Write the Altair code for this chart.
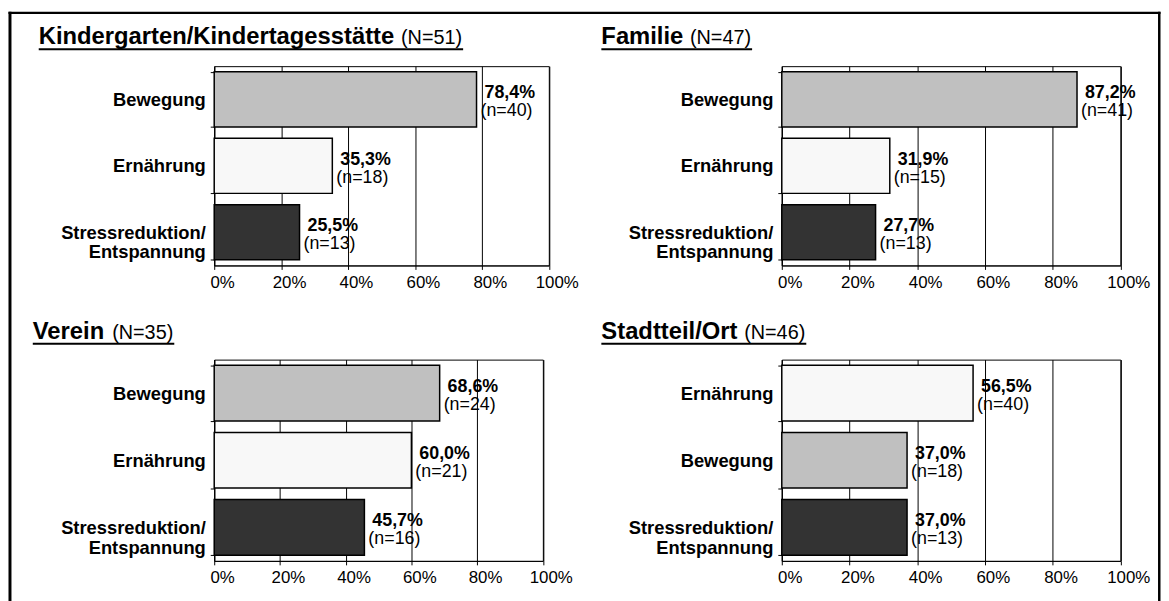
import altair as alt
import pandas as pd

FONT = "Liberation Sans"

panel_titles = ["Kindergarten/Kindertagesstätte", "Familie", "Verein", "Stadtteil/Ort"]
panel_N = ["(N=51)", "(N=47)", "(N=35)", "(N=46)"]

cats_all = ["Bewegung", "Ernährung", "Stressreduktion/|Entspannung"]
cat_colors = ["#c0c0c0", "#f8f8f8", "#333333"]

panel_cats = [
    ["Bewegung", "Ernährung", "Stressreduktion/|Entspannung"],
    ["Bewegung", "Ernährung", "Stressreduktion/|Entspannung"],
    ["Bewegung", "Ernährung", "Stressreduktion/|Entspannung"],
    ["Ernährung", "Bewegung", "Stressreduktion/|Entspannung"],
]
panel_pct = [
    [78.4, 35.3, 25.5],
    [87.2, 31.9, 27.7],
    [68.6, 60.0, 45.7],
    [56.5, 37.0, 37.0],
]
panel_n = [
    [40, 18, 13],
    [41, 15, 13],
    [24, 21, 16],
    [40, 18, 13],
]
x_ticks = [0, 20, 40, 60, 80, 100]

# Arial / Liberation Sans advance widths (per 1000 em) for the title glyphs
BOLD_W = {"K": 722, "i": 278, "n": 611, "d": 611, "e": 556, "r": 389, "g": 611, "a": 556,
          "t": 333, "/": 278, "s": 556, "ä": 556, "F": 611, "m": 889, "l": 278, "V": 667,
          "S": 667, "O": 778, " ": 278}
REG_W = {"(": 333, ")": 333, "N": 722, "=": 584}

TITLE_BOLD = 24
TITLE_REG = 20


def text_w(s, table, size):
    return sum(table.get(c, 556) for c in s) * size / 1000.0


def frame_rect(x1, x2, y1, y2):
    return alt.Chart(pd.DataFrame({"f": [0]})).mark_rect(color="black", strokeWidth=0).encode(
        x=alt.value(x1), x2=alt.value(x2), y=alt.value(y1), y2=alt.value(y2))


def panel(i, w, h, title_x, title_y, line_y, frame_parts=()):
    df = pd.DataFrame({"cat": panel_cats[i], "pct": panel_pct[i], "n": panel_n[i]})
    df["pct_label"] = [f"{v:.1f}".replace(".", ",") + "%" for v in df["pct"]]
    df["n_label"] = [f"(n={k})" for k in df["n"]]

    yscale = alt.Scale(paddingInner=0.17, paddingOuter=0.085)
    y = alt.Y("cat:N", sort=panel_cats[i], scale=yscale,
              axis=alt.Axis(title=None, labelExpr="split(datum.label, '|')",
                            labelFont=FONT, labelFontSize=18.5, labelFontWeight="bold",
                            labelColor="black", labelLineHeight=20, tickBand="extent",
                            tickSize=4, tickColor="black", domainColor="black",
                            labelPadding=5, labelLimit=400, grid=False))
    x = alt.X("pct:Q", scale=alt.Scale(domain=[0, 100], nice=False),
              axis=alt.Axis(values=x_ticks, labelExpr="datum.value + '%'", title=None,
                            grid=True, gridColor="black", gridWidth=1, gridOpacity=1,
                            tickSize=4, tickColor="black", domainColor="black",
                            labelFont=FONT, labelFontSize=17, labelColor="black",
                            labelPadding=5, labelOffset=8, labelFlush=False))
    base = alt.Chart(df)
    bars = base.mark_bar(stroke="black", strokeWidth=1.5).encode(
        x=x, y=y,
        color=alt.Color("cat:N", scale=alt.Scale(domain=cats_all, range=cat_colors), legend=None),
    )
    t1 = base.mark_text(align="left", baseline="alphabetic", dx=8, dy=-1, font=FONT,
                        fontSize=18, fontWeight="bold", color="black").encode(
        x="pct:Q", y=alt.Y("cat:N", sort=panel_cats[i]), text="pct_label:N")
    t2 = base.mark_text(align="left", baseline="alphabetic", dx=4, dy=17, font=FONT,
                        fontSize=18, color="black").encode(
        x="pct:Q", y=alt.Y("cat:N", sort=panel_cats[i]), text="n_label:N")

    tdf = pd.DataFrame({"t": [panel_titles[i]], "nn": [panel_N[i]]})
    bw = text_w(panel_titles[i], BOLD_W, TITLE_BOLD)
    gap = text_w(" ", BOLD_W, TITLE_BOLD)
    nw = text_w(panel_N[i], REG_W, TITLE_REG)
    tb = alt.Chart(tdf).mark_text(align="left", baseline="alphabetic", font=FONT,
                                  fontSize=TITLE_BOLD, fontWeight="bold", color="black").encode(
        x=alt.value(title_x), y=alt.value(title_y), text="t:N")
    tn = alt.Chart(tdf).mark_text(align="left", baseline="alphabetic", font=FONT,
                                  fontSize=TITLE_REG, color="black").encode(
        x=alt.value(title_x + bw + gap), y=alt.value(title_y), text="nn:N")
    ul = alt.Chart(tdf).mark_rule(color="black", strokeWidth=2).encode(
        x=alt.value(title_x), x2=alt.value(title_x + bw + gap + nw + 1), y=alt.value(line_y))

    layers = [bars, t1, t2, tb, tn, ul] + [frame_rect(*p) for p in frame_parts]
    return alt.layer(*layers).properties(width=w, height=h)


# outer frame (relative to the plot origin of the first panel)
frame = [(-207.5, -204.5, -55, 560), (-207.5, 954.5, -55, -52.5), (952, 954.5, -55, 560)]

p1 = panel(0, 337.5, 201, -177, -22, -17, frame)
p2 = panel(1, 341.5, 201, -182, -22, -17)
p3 = panel(2, 331.5, 203, -183, -21, -16)
p4 = panel(3, 341.5, 203, -182, -21, -16)

chart = alt.concat(p1, p2, p3, p4, columns=2, bounds="flush",
                   spacing={"row": 95, "column": 234.5}).properties(
    padding=0, background="white"
).configure_view(stroke="black", strokeWidth=1)

chart.save("out.html", embed_options={"renderer": "svg", "actions": False})
